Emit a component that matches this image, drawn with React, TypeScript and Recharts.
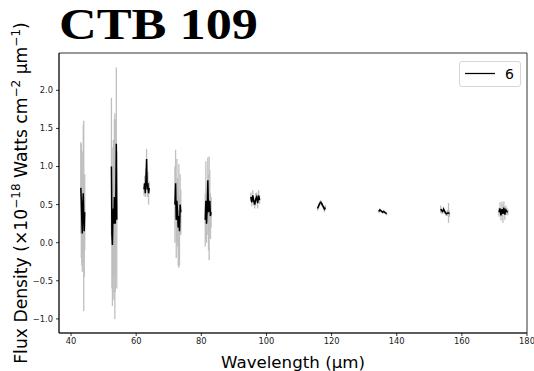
import React from 'react';
import { ComposedChart, Line, XAxis, YAxis, ErrorBar, Legend, ReferenceArea } from 'recharts';

// wavelength (µm); a null flux marks a gap between detector segments
const wavelength = [
  43.0, 43.15, 43.3, 43.45, 43.6, 43.75, 43.9, 44.05, 44.2, 48,
  52.4, 52.55, 52.7, 52.85, 53.0, 53.15, 53.3, 53.45, 53.6, 53.75, 53.9, 54.05, 58,
  62.4, 62.6, 62.8, 63.0, 63.2, 63.4, 63.6, 63.8, 64.0, 68,
  71.9, 72.1, 72.3, 72.5, 72.7, 72.9, 73.1, 73.3, 73.5, 73.7, 77,
  81.2, 81.4, 81.6, 81.8, 82.0, 82.2, 82.4, 82.6, 82.8, 83.0, 89,
  95.2, 95.5, 95.8, 96.1, 96.4, 96.7, 97.0, 97.3, 97.6, 97.9, 106,
  115.7, 116.0, 116.3, 116.6, 116.9, 117.2, 117.5, 117.8, 118.1, 126,
  134.5, 134.8, 135.1, 135.4, 135.7, 136.0, 136.3, 136.6, 136.9, 145,
  153.5, 153.8, 154.1, 154.4, 154.7, 155.0, 155.3, 155.6, 155.9, 156.2, 164,
  171.4, 171.7, 172.0, 172.3, 172.6, 172.9, 173.2, 173.5, 173.8, 174.1,
];

const flux = [
  0.72, 0.55, 0.3, 0.12, 0.5, 0.65, 0.35, 0.15, 0.4, null,
  1.0, 0.1, -0.03, 0.3, 0.45, 0.25, 0.6, 0.35, 0.25, 0.62, 1.3, 0.3, null,
  0.7, 0.78, 0.65, 0.85, 1.1, 0.7, 0.78, 0.65, 0.72, null,
  0.5, 0.78, 0.3, 0.55, 0.4, 0.2, 0.35, 0.15, 0.5, 0.4, null,
  0.3, 0.55, 0.25, 0.45, 0.82, 0.4, 0.45, 0.55, 0.35, 0.4, null,
  0.6, 0.53, 0.62, 0.55, 0.5, 0.57, 0.6, 0.52, 0.62, 0.56, null,
  0.45, 0.48, 0.51, 0.53, 0.52, 0.49, 0.47, 0.44, 0.46, null,
  0.41, 0.43, 0.42, 0.41, 0.4, 0.41, 0.4, 0.39, 0.38, null,
  0.44, 0.42, 0.41, 0.44, 0.41, 0.39, 0.38, 0.39, 0.39, 0.38, null,
  0.4, 0.45, 0.36, 0.44, 0.38, 0.46, 0.37, 0.43, 0.41, 0.4,
];

const fluxError = [
  0.6, 0.75, 0.6, 0.5, 0.7, 0.9, 1.25, 0.6, 0.5, null,
  0.9, 0.7, 0.8, 0.95, 0.9, 1.0, 1.02, 1.35, 0.9, 1.0, 1.0, 0.9, null,
  0.08, 0.1, 0.05, 0.12, 0.13, 0.1, 0.15, 0.15, 0.08, null,
  0.5, 0.44, 0.5, 0.55, 0.45, 0.5, 0.68, 0.45, 0.4, 0.3, null,
  0.35, 0.52, 0.25, 0.35, 0.3, 0.5, 0.68, 0.4, 0.3, 0.2, null,
  0.06, 0.05, 0.07, 0.06, 0.05, 0.08, 0.06, 0.07, 0.07, 0.05, null,
  0.03, 0.03, 0.03, 0.03, 0.03, 0.03, 0.03, 0.04, 0.03, null,
  0.02, 0.02, 0.02, 0.02, 0.02, 0.02, 0.02, 0.02, 0.02, null,
  0.05, 0.04, 0.03, 0.03, 0.03, 0.03, 0.03, 0.04, 0.13, 0.04, null,
  0.06, 0.08, 0.07, 0.1, 0.12, 0.08, 0.07, 0.06, 0.05, 0.04,
];

const xTicks = [40, 60, 80, 100, 120, 140, 160, 180];
const yTicks = [-1.0, -0.5, 0.0, 0.5, 1.0, 1.5, 2.0];
const xDomain = [36.3, 180];
const yDomain = [-1.185, 2.49];
const seriesName = '6';
const title = 'CTB 109';

const data = wavelength.map((w, i) => ({ wavelength: w, flux: flux[i], err: fluxError[i] }));

const fmtY = (v: number) => v.toFixed(1).replace('-', '\u2212');

const tickStyle = { fontFamily: 'DejaVu Sans', fontSize: 8.33, fill: '#222' };

const YLabel = () => {
  const cx = 26.7;
  const cy = 193;
  return (
    <text
      x={cx}
      y={cy}
      transform={`rotate(-90, ${cx}, ${cy})`}
      textAnchor="middle"
      fontFamily="DejaVu Sans"
      fontSize={17.2}
      fill="#000"
    >
      <tspan>Flux Density (×10</tspan>
      <tspan fontSize={12} dy={-6.6}>−18</tspan>
      <tspan dy={6.6}> Watts cm</tspan>
      <tspan fontSize={12} dy={-6.6}>−2</tspan>
      <tspan dy={6.6}> µm</tspan>
      <tspan fontSize={12} dy={-6.6}>−1</tspan>
      <tspan dy={6.6}>)</tspan>
    </text>
  );
};

const LegendBox = () => (
  <div
    style={{
      width: 62,
      height: 26,
      boxSizing: 'border-box',
      border: '1px solid #d6d6d6',
      borderRadius: 3,
      background: '#fff',
      position: 'relative',
      fontFamily: 'DejaVu Sans',
    }}
  >
    <svg width={62} height={26} style={{ position: 'absolute', left: -1, top: -1 }}>
      <line x1={6} y1={12.5} x2={36} y2={12.5} stroke="#000" strokeWidth={1.25} />
      <text x={46} y={17.5} fontSize={14} fontFamily="DejaVu Sans" fill="#000">
        {seriesName}
      </text>
    </svg>
  </div>
);

export default function App() {
  return (
    <div style={{ position: 'absolute', left: 0, top: 0, width: 534, height: 371, background: '#fff' }}>
      <svg width={534} height={50} style={{ position: 'absolute', left: 0, top: 0 }}>
        <text
          x={59}
          y={39.3}
          fontFamily="Liberation Serif"
          fontWeight="bold"
          fontSize={44}
          textLength={199}
          lengthAdjust="spacingAndGlyphs"
          fill="#000"
        >
          {title}
        </text>
      </svg>
      <ComposedChart
        width={534}
        height={371}
        data={data}
        margin={{ top: 53, right: 7, bottom: 0, left: 0 }}
        style={{ position: 'absolute', left: 0, top: 0 }}
      >
        <XAxis
          dataKey="wavelength"
          type="number"
          domain={xDomain}
          ticks={xTicks}
          allowDataOverflow
          height={38}
          tickSize={3}
          tickMargin={2}
          tick={tickStyle}
          axisLine={{ stroke: '#000', strokeWidth: 0.8 }}
          tickLine={{ stroke: '#000', strokeWidth: 0.8 }}
          interval={0}
          label={{
            value: 'Wavelength (µm)',
            position: 'insideBottom',
            offset: 3,
            style: { fontFamily: 'DejaVu Sans', fontSize: 16.67, fill: '#000' },
          }}
        />
        <YAxis
          type="number"
          domain={yDomain}
          ticks={yTicks}
          allowDataOverflow
          width={59}
          tickSize={3}
          tickMargin={3}
          tickFormatter={fmtY}
          tick={tickStyle}
          interval={0}
          axisLine={{ stroke: '#000', strokeWidth: 0.8 }}
          tickLine={{ stroke: '#000', strokeWidth: 0.8 }}
          label={<YLabel />}
        />
        <ReferenceArea
          x1={xDomain[0]}
          x2={xDomain[1]}
          y1={yDomain[0]}
          y2={yDomain[1]}
          fill="none"
          fillOpacity={0}
          stroke="#000"
          strokeWidth={0.8}
          ifOverflow="visible"
        />
        <Line
          dataKey="flux"
          stroke="none"
          dot={false}
          activeDot={false}
          isAnimationActive={false}
          legendType="none"
          connectNulls={false}
        >
          <ErrorBar dataKey="err" width={0} stroke="#bfbfbf" strokeWidth={1.3} direction="y" />
        </Line>
        <Line
          dataKey="flux"
          name={seriesName}
          stroke="#000"
          strokeWidth={1.5}
          dot={false}
          activeDot={false}
          isAnimationActive={false}
          connectNulls={false}
          zIndex={450}
        />
        <Legend
          layout="horizontal"
          verticalAlign="middle"
          align="center"
          content={<LegendBox />}
          wrapperStyle={{ position: 'absolute', top: 61, left: 459, width: 62, height: 26 }}
        />
      </ComposedChart>
    </div>
  );
}
